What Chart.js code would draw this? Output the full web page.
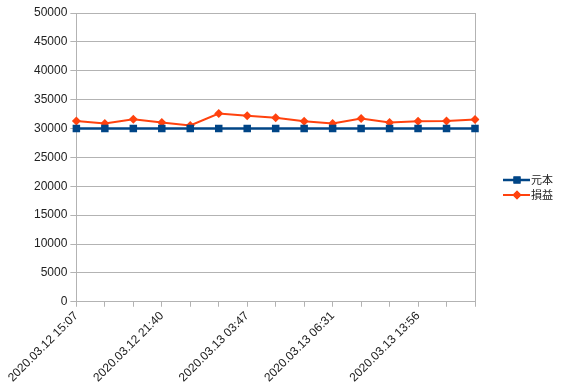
<!DOCTYPE html>
<html><head><meta charset="utf-8">
<script src="https://cdn.jsdelivr.net/npm/chart.js@4"></script>
<style>html,body{margin:0;padding:0;background:#fff}canvas{display:block}</style>
</head><body>
<canvas id="c" width="567" height="392"></canvas>
<script>
const categories = ["2020.03.12 15:07","","","2020.03.12 21:40","","","2020.03.13 03:47","","","2020.03.13 06:31","","","2020.03.13 13:56","",""];
const principal = [30000,30000,30000,30000,30000,30000,30000,30000,30000,30000,30000,30000,30000,30000,30000];
const profitLoss = [31320,30870,31620,31050,30520,32600,32200,31850,31270,30870,31740,31050,31270,31300,31570];
const seriesNames = ["元本","損益"];
const colors = ["#004586","#ff420e"];
const FONT = "'Liberation Sans', Arial, sans-serif";

const legendPlugin = {
  id: 'customLegend',
  afterDraw(chart) {
    const ctx = chart.ctx;
    const rows = [180, 195];
    const styles = ['rect','rectRot'];
    const radii = [5, 4.5];
    ctx.save();
    rows.forEach((y, i) => {
      ctx.strokeStyle = colors[i];
      ctx.lineWidth = i === 0 ? 2.5 : 2;
      ctx.beginPath(); ctx.moveTo(503, y); ctx.lineTo(530, y); ctx.stroke();
      ctx.fillStyle = colors[i];
      Chart.helpers.drawPoint(ctx, {pointStyle: styles[i], radius: radii[i], borderWidth: 0}, 517, y);
      ctx.fill();
      ctx.fillStyle = '#222';
      ctx.font = "11px 'Noto Sans CJK JP', sans-serif";
      ctx.textBaseline = 'middle';
      ctx.fillText(seriesNames[i], 531, y);
    });
    ctx.restore();
  }
};

new Chart(document.getElementById('c'), {
  type: 'line',
  data: {
    labels: categories,
    datasets: [
      {label: seriesNames[0], data: principal, borderColor: colors[0], backgroundColor: colors[0], borderWidth: 2.5, pointStyle: 'rect', pointRadius: 5.3, pointBorderWidth: 0, tension: 0},
      {label: seriesNames[1], data: profitLoss, borderColor: colors[1], backgroundColor: colors[1], borderWidth: 2, pointStyle: 'rectRot', pointRadius: 4.5, pointBorderWidth: 0, tension: 0}
    ]
  },
  options: {
    responsive: false,
    animation: false,
    layout: {padding: {left: 31, right: 92, top: 13, bottom: 5}},
    plugins: {legend: {display: false}, tooltip: {enabled: false}},
    scales: {
      x: {
        offset: false,
        grid: {
          color: (c) => c.index === categories.length - 1 ? '#b3b3b3' : 'rgba(0,0,0,0)',
          tickColor: '#b3b3b3', tickLength: 5, drawOnChartArea: true
        },
        border: {color: '#b3b3b3'},
        ticks: {autoSkip: false, maxRotation: 45, minRotation: 45, color: '#222', font: {family: FONT, size: 12}, padding: 2}
      },
      y: {
        min: 0, max: 50000,
        grid: {color: '#b3b3b3', tickLength: 6},
        border: {color: '#b3b3b3'},
        ticks: {stepSize: 5000, color: '#222', font: {family: FONT, size: 12}, padding: 3, callback: (v) => String(v)}
      }
    }
  },
  plugins: [legendPlugin]
});
</script>
</body></html>
